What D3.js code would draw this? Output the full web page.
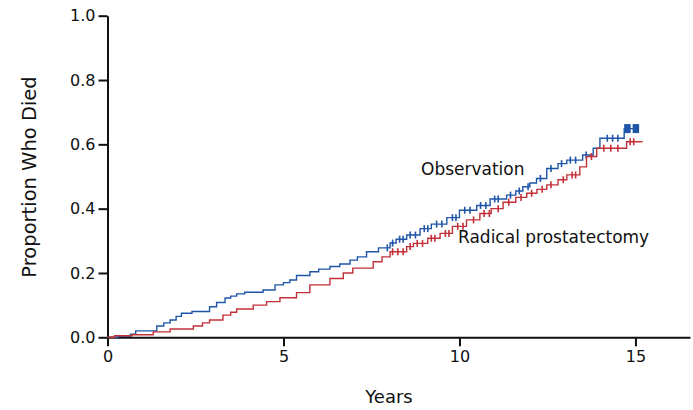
<!DOCTYPE html>
<html>
<head>
<meta charset="utf-8">
<script src="https://cdn.jsdelivr.net/npm/d3@7"></script>
<style>
  body { margin: 0; background: #fff; }
  svg text { font-family: "DejaVu Sans", sans-serif; fill: #111; }
</style>
</head>
<body>
<div id="chart"></div>
<script>
// Step data (years, cumulative proportion who died)
const obsTimes = [0, 0.3, 0.65, 0.8, 1.4, 1.6, 1.78, 1.95, 2.1, 2.4, 2.9, 3.1, 3.34, 3.5, 3.67, 3.9, 4.42, 4.76, 5.0, 5.18, 5.37, 5.75, 6.0, 6.32, 6.6, 6.89, 7.1, 7.36, 7.7, 8.03, 8.2, 8.5, 8.88, 9.2, 9.64, 10.0, 10.49, 10.87, 11.34, 11.6, 11.8, 12.0, 12.19, 12.48, 12.8, 13.05, 13.5, 13.8, 13.99, 14.68, 15.1];
const obsProp  = [0, 0.003, 0.01, 0.02, 0.035, 0.045, 0.054, 0.065, 0.075, 0.08, 0.095, 0.108, 0.122, 0.128, 0.135, 0.14, 0.147, 0.163, 0.17, 0.178, 0.192, 0.204, 0.212, 0.22, 0.228, 0.24, 0.25, 0.266, 0.278, 0.293, 0.305, 0.318, 0.338, 0.352, 0.372, 0.395, 0.41, 0.43, 0.442, 0.455, 0.468, 0.48, 0.494, 0.525, 0.54, 0.551, 0.567, 0.588, 0.619, 0.649, 0.649];
const obsCensor = [7.95, 8.1, 8.3, 8.4, 8.6, 8.75, 9.0, 9.1, 9.35, 9.5, 9.8, 9.9, 10.15, 10.3, 10.6, 10.75, 11.0, 11.1, 11.45, 11.7, 11.95, 12.3, 12.6, 12.9, 13.15, 13.3, 13.6, 14.2, 14.35, 14.5];

const rpTimes = [0, 0.2, 0.7, 1.3, 1.78, 2.44, 2.7, 2.9, 3.28, 3.5, 3.67, 4.14, 4.52, 4.9, 5.37, 5.75, 6.32, 6.7, 6.97, 7.55, 7.8, 8.03, 8.5, 8.69, 9.1, 9.45, 9.8, 10.2, 10.58, 10.9, 11.24, 11.6, 11.91, 12.2, 12.48, 12.8, 13.05, 13.42, 13.61, 13.9, 14.75, 15.2];
const rpProp  = [0, 0.005, 0.008, 0.017, 0.026, 0.035, 0.045, 0.054, 0.069, 0.078, 0.088, 0.1, 0.111, 0.123, 0.139, 0.163, 0.183, 0.2, 0.215, 0.235, 0.25, 0.266, 0.282, 0.292, 0.308, 0.323, 0.345, 0.365, 0.385, 0.4, 0.42, 0.435, 0.448, 0.46, 0.474, 0.49, 0.505, 0.53, 0.562, 0.588, 0.608, 0.608];
const rpCensor = [8.1, 8.25, 8.4, 8.6, 8.8, 8.95, 9.2, 9.3, 9.6, 9.7, 9.95, 10.1, 10.4, 10.7, 10.85, 11.1, 11.4, 11.75, 12.05, 12.35, 12.6, 12.95, 13.2, 13.3, 13.75, 14.1, 14.3, 14.5, 14.85, 14.95];

const xTicks = [0, 5, 10, 15];
const yTicks = [0, 0.2, 0.4, 0.6, 0.8, 1.0];

const width = 693, height = 410;
const svg = d3.select("#chart").append("svg")
    .attr("width", width)
    .attr("height", height);

const x = d3.scaleLinear().domain([0, 16.55]).range([107.5, 690]);
const y = d3.scaleLinear().domain([0, 1]).range([337.3, 15.7]);

// axes
const xAxis = svg.append("g")
    .attr("transform", `translate(0, ${y(0)})`)
    .call(d3.axisBottom(x).tickValues(xTicks).tickFormat(d3.format("d")).tickSize(9).tickSizeOuter(0).tickPadding(4));
const yAxis = svg.append("g")
    .attr("transform", `translate(${x(0)}, 0)`)
    .call(d3.axisLeft(y).tickValues(yTicks).tickFormat(d3.format(".1f")).tickSize(9).tickSizeOuter(0).tickPadding(3));

[xAxis, yAxis].forEach(g => {
    g.select(".domain").attr("stroke", "#111").attr("stroke-width", 2);
    g.selectAll(".tick line").attr("stroke", "#111").attr("stroke-width", 2);
    g.selectAll(".tick text").style("font-size", "16px").attr("fill", "#111");
});

svg.append("text")
    .attr("x", 389).attr("y", 403)
    .attr("text-anchor", "middle")
    .style("font-size", "18px")
    .text("Years");

svg.append("text")
    .attr("transform", "translate(36, 177) rotate(-90)")
    .attr("text-anchor", "middle")
    .style("font-size", "19.5px")
    .text("Proportion Who Died");

// curves
const groups = [
    {times: obsTimes, prop: obsProp, censor: obsCensor, color: "#1f56a8"},
    {times: rpTimes, prop: rpProp, censor: rpCensor, color: "#c23038"}
];

const line = d3.line()
    .x(d => x(d[0]))
    .y(d => y(d[1]))
    .curve(d3.curveStepAfter);

groups.forEach(gr => {
    const pts = gr.times.map((t, i) => [t, gr.prop[i]]);
    svg.append("path")
        .datum(pts)
        .attr("fill", "none")
        .attr("stroke", gr.color)
        .attr("stroke-width", 1.4)
        .attr("d", line);

    const bis = d3.bisector(d => d).right;
    svg.append("g").selectAll("line")
        .data(gr.censor)
        .enter().append("line")
        .attr("x1", d => x(d)).attr("x2", d => x(d))
        .attr("y1", d => y(gr.prop[bis(gr.times, d) - 1]) - 3.5)
        .attr("y2", d => y(gr.prop[bis(gr.times, d) - 1]) + 3.5)
        .attr("stroke", gr.color)
        .attr("stroke-width", 1.6);
});

// end-of-follow-up blocks on the observation curve
const endBlocks = [14.68, 14.92];
svg.append("g").selectAll("rect")
    .data(endBlocks)
    .enter().append("rect")
    .attr("x", d => x(d))
    .attr("y", y(obsProp[obsProp.length - 1]) - 4.5)
    .attr("width", 6.5)
    .attr("height", 9)
    .attr("fill", "#1f56a8");

// labels
svg.append("text")
    .attr("x", 421).attr("y", 175)
    .style("font-size", "17px")
    .text("Observation");
svg.append("text")
    .attr("x", 458).attr("y", 243)
    .style("font-size", "17px")
    .text("Radical prostatectomy");
</script>
</body>
</html>
